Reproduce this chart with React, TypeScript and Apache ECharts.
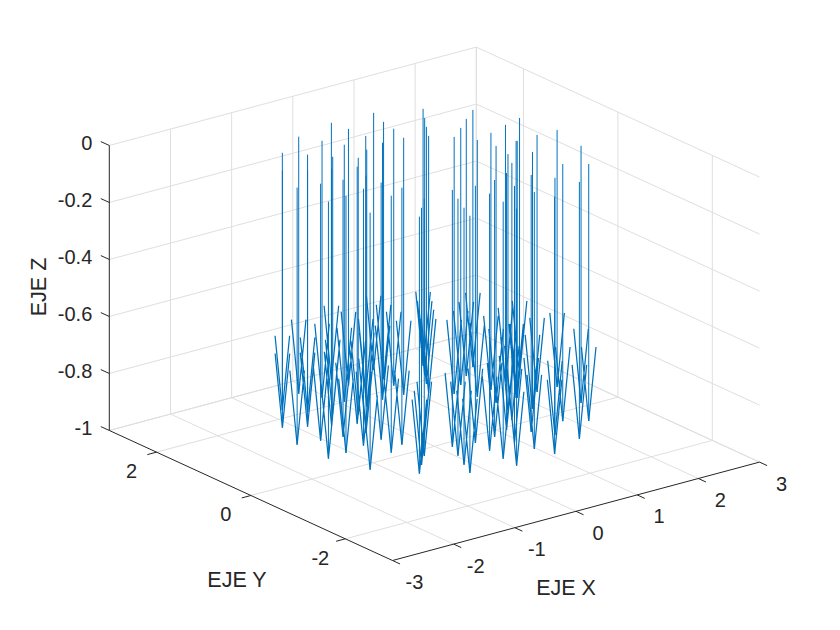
import React, { useEffect, useRef } from "react";
import * as echarts from "echarts";

// 3D data: each site has a tip on the floor, a stem and two short arms
const siteX = [-1.15,-.75,-1.38,-.22,-.87,-.53,-1.05,-.07,-1.37,.43,-.60,-.32,-.73,.07,-1.06,.47,-.29,-.08,-.72,.49,-.40,.19,-1.19,1.09,-.40,.51,.99,-.59,.94,-.30,.84,-.77,-.55,1.69,-.32,1.50,1.32,1.14,.17,1.38,.03,1.65,-.11,1.91,-.23,2.18,.50,1.55,.47,1.85,.83,1.61,.43,2.18,1.11,1.55,1.39,.90,1.93,.41,1.94,2.48,1.32,1.85,.97,2.28,1.07,1.50,2.60,1.89,1.66,2.49,2.16];
const siteY = [1.73,2.25,1.12,2.59,1.56,2.00,1.05,2.29,.47,2.74,1.40,1.74,.99,2.00,.50,2.43,1.26,1.51,.57,2.09,.93,1.68,-.18,2.70,.61,1.76,2.36,.15,2.08,.30,1.74,-.68,-.44,2.43,-.20,2.15,1.88,1.60,-.16,1.37,-.46,1.58,-.77,1.80,-1.05,2.01,-.22,1.10,-.56,1.20,-.20,.78,-.90,1.32,-.09,.45,.16,-.53,.77,-1.21,.76,1.41,-.34,.32,-.86,.78,-1.16,-.61,.77,-.27,-.92,.12,-.47];
const tipZ = -1;
const stemTopZ = -0.098;
const armTopZ = -0.74;
const armOffsetX = 0.075;
const armOffsetY = -0.057;

const xTicks = [-3, -2, -1, 0, 1, 2, 3];
const yTicks = [-2, 0, 2];
const zTicks = [0, -0.2, -0.4, -0.6, -0.8, -1];
const zTickLabels = ["0", "-0.2", "-0.4", "-0.6", "-0.8", "-1"];
const xMin = -3, xMax = 3, yMin = -3, yMax = 3, zMin = -1, zMax = 0;

const xTitle = "EJE X";
const yTitle = "EJE Y";
const zTitle = "EJE Z";

const dataColor = "#0072BD";
const gridColor = "#e0dede";
const axisColor = "#262626";
const fontFamily = '"Liberation Sans", Arial, sans-serif';
const tickFontSize = 20;
const titleFontSize = 21.5;

// MATLAB's default orthographic view as an affine map
function project(x: number, y: number, z: number): [number, number] {
  const a = x - xMin, b = y - yMin, c = z - zMin;
  return [392.5 + a * 61.17 - b * 47.2, 560.5 - a * 16.4 - b * 21.67 - c * 285];
}

const GAP: any = ["-", "-"];
function polyline(points: number[][]) {
  const out: any[] = points.map((p) => project(p[0], p[1], p[2]));
  out.push(GAP);
  return out;
}

function buildGrid() {
  const d: any[] = [];
  const xLines = xTicks.slice(1);
  const yLines = [...yTicks, yMax];
  for (const z of zTicks) {
    d.push(...polyline([[xMin, yMax, z], [xMax, yMax, z], [xMax, yMin, z]]));
  }
  for (const x of xLines) {
    d.push(...polyline([[x, yMin, zMin], [x, yMax, zMin], [x, yMax, zMax]]));
  }
  for (const y of yLines) {
    d.push(...polyline([[xMin, y, zMin], [xMax, y, zMin], [xMax, y, zMax]]));
  }
  return d;
}

function buildAxes() {
  const d: any[] = [];
  d.push(...polyline([[xMin, yMax, zMax], [xMin, yMax, zMin], [xMin, yMin, zMin], [xMax, yMin, zMin]]));
  for (const x of xTicks) d.push(...polyline([[x, yMin, zMin], [x, yMin - 0.16, zMin]]));
  for (const y of yTicks) d.push(...polyline([[xMin, y, zMin], [xMin - 0.15, y, zMin]]));
  for (const z of zTicks) d.push(...polyline([[xMin, yMax, z], [xMin, yMax + 0.18, z]]));
  return d;
}

function buildArms() {
  const d: any[] = [];
  siteX.forEach((x, i) => {
    const y = siteY[i];
    d.push(...polyline([
      [x - armOffsetX, y - armOffsetY, armTopZ],
      [x, y, tipZ],
      [x + armOffsetX, y + armOffsetY, armTopZ],
    ]));
  });
  return d;
}

function buildStems() {
  const d: any[] = [];
  siteX.forEach((x, i) => {
    d.push(...polyline([[x, siteY[i], tipZ], [x, siteY[i], stemTopZ]]));
  });
  return d;
}

type Lbl = { p: [number, number]; text: string; align: string; size: number; rot?: number };
function buildLabels(): Lbl[] {
  const out: Lbl[] = [];
  xTicks.forEach((x) => {
    const b = project(x, yMin, zMin);
    out.push({ p: [b[0] + 22, b[1] + 21.5], text: String(x), align: "center", size: tickFontSize });
  });
  yTicks.forEach((y) => {
    const b = project(xMin, y, zMin);
    out.push({ p: [b[0] - 25, b[1] + 19], text: String(y), align: "center", size: tickFontSize });
  });
  zTicks.forEach((z, i) => {
    const b = project(xMin, yMax, z);
    out.push({ p: [b[0] - 17, b[1] - 2], text: zTickLabels[i], align: "right", size: tickFontSize });
  });
  out.push({ p: [566, 588], text: xTitle, align: "center", size: titleFontSize });
  out.push({ p: [237, 580], text: yTitle, align: "center", size: titleFontSize });
  out.push({ p: [39, 287], text: zTitle, align: "center", size: titleFontSize, rot: Math.PI / 2 });
  return out;
}

function lineSeries(data: any[], color: string, width: number, z: number) {
  return {
    type: "line",
    data,
    z,
    showSymbol: false,
    symbol: "none",
    silent: true,
    clip: false,
    connectNulls: false,
    lineStyle: { color, width, cap: "butt", join: "miter" },
  };
}

export default function App() {
  const ref = useRef<HTMLDivElement>(null);
  useEffect(() => {
    document.body.style.margin = "0";
    const chart = echarts.init(ref.current!, undefined, { renderer: "svg" });
    const labels = buildLabels();
    chart.setOption({
      animation: false,
      backgroundColor: "#ffffff",
      grid: { left: 0, right: 0, top: 0, bottom: 0 },
      xAxis: { type: "value", min: 0, max: 840, show: false },
      yAxis: { type: "value", min: 0, max: 630, inverse: true, show: false },
      series: [
        lineSeries(buildGrid(), gridColor, 1, 1),
        lineSeries(buildAxes(), axisColor, 1, 2),
        lineSeries(buildStems(), dataColor, 1, 3),
        lineSeries(buildArms(), dataColor, 1.25, 3),
        {
          type: "custom",
          z: 4,
          silent: true,
          clip: false,
          data: labels.map((l) => l.p),
          encode: { x: 0, y: 1 },
          renderItem: (params: any, api: any) => {
            const l = labels[params.dataIndex];
            const c = api.coord([api.value(0), api.value(1)]);
            return {
              type: "text",
              x: c[0],
              y: c[1],
              rotation: l.rot || 0,
              style: {
                text: l.text,
                fill: axisColor,
                fontSize: l.size,
                fontFamily,
                align: l.align,
                verticalAlign: "middle",
              },
            };
          },
        },
      ],
    });
    return () => chart.dispose();
  }, []);
  return <div ref={ref} style={{ width: 840, height: 630 }} />;
}
